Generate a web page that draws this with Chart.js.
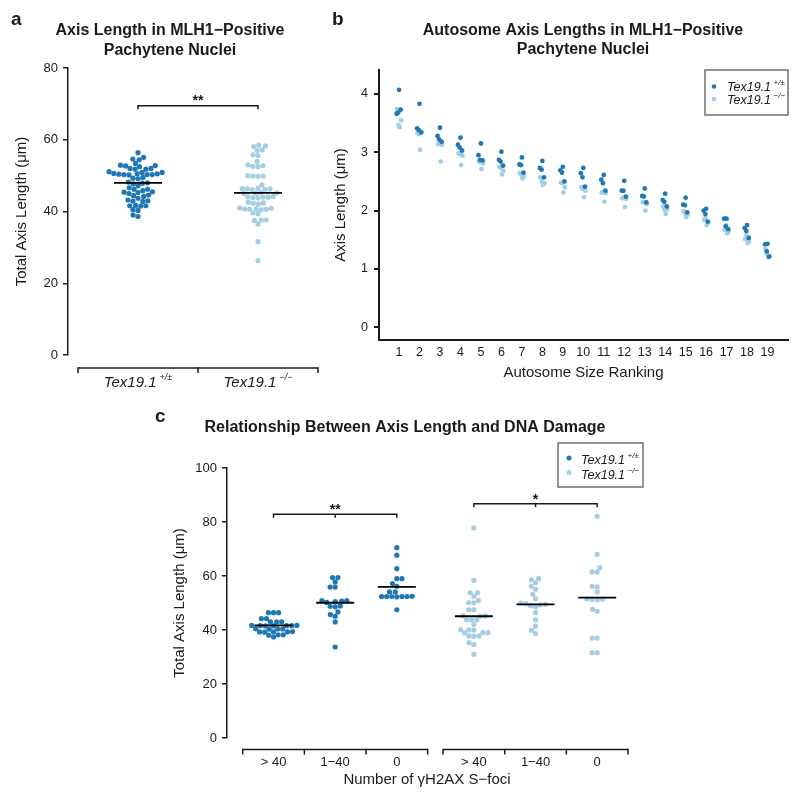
<!DOCTYPE html>
<html>
<head>
<meta charset="utf-8">
<script src="https://cdn.jsdelivr.net/npm/chart.js@4.4.1/dist/chart.umd.min.js"></script>
<style>
  html, body { margin: 0; padding: 0; background: #fff; }
  #wrap { position: relative; width: 800px; height: 798px; }
  #wrap canvas { position: absolute; left: 0; top: 0; }
</style>
</head>
<body>
<div id="wrap">
  <canvas id="chartA" width="800" height="798"></canvas>
  <canvas id="chartB" width="800" height="798"></canvas>
  <canvas id="chartC" width="800" height="798"></canvas>
</div>
<script>
const $ = id => document.getElementById(id);

// ---------- data ----------
// panel a: total axis length per nucleus
const genotypes = ['+/±', '−/−'];
const totalWT = [56.4, 55.1, 54.6, 54.4, 53.4, 52.9, 52.8, 52.7, 52.5, 52.0, 52.0, 51.8, 51.8, 51.1,
  50.9, 50.9, 50.6, 50.5, 50.5, 50.4, 50.3, 50.3, 50.3, 50.2, 49.5, 49.3, 49.1, 48.2, 48.0, 47.9,
  47.7, 47.2, 46.6, 46.2, 46.2, 45.8, 45.5, 45.4, 45.3, 45.0, 44.6, 44.4, 44.2, 43.7, 43.2, 43.0,
  42.9, 42.8, 41.7, 41.6, 41.6, 41.5, 40.5, 40.3, 39.0, 38.6];
const totalKO = [58.3, 58.5, 58.1, 57.2, 57.0, 55.8, 55.6, 53.9, 53.0, 52.8, 52.6, 52.5, 50.0, 49.9,
  49.8, 49.9, 47.4, 46.3, 46.4, 46.2, 46.3, 46.5, 46.1, 45.2, 45.0, 45.3, 45.1, 44.0, 43.9, 44.1,
  43.8, 44.2, 44.0, 42.6, 42.3, 42.4, 42.1, 40.9, 40.7, 40.6, 40.8, 41.0, 40.5, 40.7, 39.6, 39.4,
  37.7, 37.6, 37.5, 36.5, 31.6, 26.3];
const meanA = [48.0, 45.2];
const ticksA = [0, 20, 40, 60, 80];

// panel b: per-autosome axis length (one value per mouse)
const chromosomes = [1, 2, 3, 4, 5, 6, 7, 8, 9, 10, 11, 12, 13, 14, 15, 16, 17, 18, 19];
const autoWT = [
  [4.07, 3.66, 3.68, 3.73], [3.83, 3.41, 3.38, 3.34], [3.42, 3.28, 3.22, 3.18], [3.25, 3.13, 3.08, 3.03],
  [3.15, 2.95, 2.87, 2.86], [3.01, 2.87, 2.84, 2.77], [2.91, 2.79, 2.78, 2.65], [2.85, 2.73, 2.70, 2.57],
  [2.75, 2.69, 2.65, 2.50], [2.73, 2.64, 2.57, 2.41], [2.61, 2.53, 2.47, 2.34], [2.51, 2.34, 2.34, 2.24],
  [2.38, 2.25, 2.24, 2.14], [2.29, 2.18, 2.15, 2.07], [2.22, 2.10, 2.09, 1.97], [2.03, 2.00, 1.94, 1.81],
  [1.86, 1.86, 1.73, 1.68], [1.75, 1.70, 1.65, 1.53], [1.43, 1.42, 1.30, 1.21]
];
const autoKO = [
  [3.74, 3.55, 3.43, 3.47], [3.33, 3.35, 3.04, 3.31], [3.14, 3.13, 2.84, 3.15], [2.98, 2.94, 2.78, 2.97],
  [2.84, 2.81, 2.71, 2.83], [2.75, 2.68, 2.62, 2.73], [2.64, 2.58, 2.55, 2.61], [2.57, 2.47, 2.44, 2.50],
  [2.48, 2.40, 2.31, 2.47], [2.40, 2.34, 2.23, 2.37], [2.31, 2.30, 2.15, 2.31], [2.21, 2.20, 2.06, 2.22],
  [2.14, 2.11, 2.00, 2.15], [2.07, 2.02, 1.94, 2.01], [1.99, 1.93, 1.89, 1.95], [1.84, 1.79, 1.75, 1.87],
  [1.67, 1.64, 1.61, 1.75], [1.51, 1.47, 1.44, 1.58], [1.34, 1.22, 1.20, 1.26]
];
const ticksB = [0, 1, 2, 3, 4];

// panel c: total axis length split by number of gH2AX foci
const fociCats = ['> 40', '1−40', '0'];
const dmgWT = [
  [46.4, 46.4, 46.4, 44.2, 44.2, 43.0, 43.0, 43.0, 41.7, 41.6, 41.5, 41.7, 41.6, 41.5, 41.6, 40.4,
   40.4, 40.5, 40.3, 39.3, 39.3, 39.2, 39.4, 39.3, 38.2, 38.2, 38.1, 37.4],
  [59.4, 59.4, 57.8, 55.9, 55.9, 50.9, 50.7, 50.5, 50.2, 50.9, 48.8, 48.6, 48.9, 46.7, 45.7, 45.1, 43.0, 33.7],
  [70.5, 67.7, 62.7, 59.0, 59.0, 57.2, 56.2, 54.1, 54.1, 52.4, 52.4, 52.4, 52.3, 52.4, 52.5, 52.4, 47.5]
];
const dmgKO = [
  [77.8, 58.4, 53.8, 53.8, 52.5, 51.0, 50.1, 50.1, 47.5, 47.5, 45.2, 45.2, 45.1, 43.7, 43.7, 43.8,
   42.0, 40.1, 40.1, 40.0, 39.0, 39.0, 38.9, 37.8, 37.8, 37.7, 35.3, 34.6, 31.0],
  [59.0, 58.6, 57.5, 56.2, 55.1, 53.2, 51.6, 49.8, 49.5, 49.3, 49.0, 48.6, 50.0, 46.4, 43.8, 41.4, 39.9, 38.7],
  [82.1, 68.0, 63.1, 61.5, 61.5, 56.2, 56.0, 54.1, 51.5, 51.3, 51.2, 51.4, 47.7, 46.9, 37.0, 37.0, 31.6, 31.6]
];
const meanCwt = [41.7, 50.1, 56.0];
const meanCko = [45.1, 49.5, 52.0];
const ticksC = [0, 20, 40, 60, 80, 100];

// ---------- style ----------
const DARK = '#1f78b4';
const LIGHT = '#a6cee3';
const INK = '#1a1a1a';
const FONT = '"Liberation Sans", Arial, Helvetica, sans-serif';
Chart.defaults.font.family = FONT;
Chart.defaults.color = INK;

// small jitter for panel b (R jitter look)
const jitWT = [0, -0.12, -0.04, 0.08];
const jitKO = [-0.1, 0.1, 0.03, -0.03];

// ---------- helpers ----------
// beeswarm: place each point as close to the centre as possible without overlap (pixels)
function swarm(vals, toPx, d) {
  const order = vals.map((v, i) => i).sort((a, b) => vals[a] - vals[b]);
  const placed = [], out = [];
  order.forEach(i => {
    const py = toPx(vals[i]);
    const near = placed.filter(q => Math.abs(q.py - py) < d);
    const cands = [0];
    near.forEach(q => {
      const dx = Math.sqrt(d * d - (q.py - py) ** 2);
      cands.push(q.px + dx, q.px - dx);
    });
    cands.sort((a, b) => Math.abs(a) - Math.abs(b) || a - b);
    const px = cands.find(c => near.every(q => (q.px - c) ** 2 + (q.py - py) ** 2 >= d * d - 1e-6));
    placed.push({ px, py });
    out[i] = px;
  });
  return out;
}

function swarmData(chart, groups, centers, d) {
  const sx = chart.scales.x, sy = chart.scales.y;
  const unit = sx.getPixelForValue(1) - sx.getPixelForValue(0);
  return groups.flatMap((vals, g) => {
    const off = swarm(vals, v => sy.getPixelForValue(v), d);
    return vals.map((v, k) => ({ x: centers[g] + off[k] / unit, y: v }));
  });
}

function txt(ctx, s, x, y, font, align = 'center') {
  ctx.font = font;
  ctx.fillStyle = INK;
  ctx.textAlign = align;
  ctx.textBaseline = 'alphabetic';
  ctx.fillText(s, x, y);
}

function geno(ctx, sup, x, y, size, align = 'center') {
  const main = `italic ${size}px ${FONT}`;
  const small = `italic ${Math.round(size * 0.62)}px ${FONT}`;
  ctx.font = main;
  const w1 = ctx.measureText('Tex19.1').width;
  ctx.font = small;
  const w2 = ctx.measureText(sup).width;
  const gap = size * 0.2;
  const x0 = align === 'center' ? x - (w1 + gap + w2) / 2 : x;
  txt(ctx, 'Tex19.1', x0, y, main, 'left');
  txt(ctx, sup, x0 + w1 + gap, y - size * 0.45, small, 'left');
}

function line(ctx, pts, w = 1.5, color = INK) {
  ctx.beginPath();
  ctx.strokeStyle = color;
  ctx.lineWidth = w;
  pts.forEach(([x, y], i) => i ? ctx.lineTo(x, y) : ctx.moveTo(x, y));
  ctx.stroke();
}

// R-style category axis: line with ticks at the group borders, pointing down
function catAxis(ctx, sx, from, n, py, labels, drawLabel) {
  const xs = [];
  for (let i = 0; i <= n; i++) xs.push(sx.getPixelForValue(from + i));
  line(ctx, [[xs[0], py], [xs[n], py]]);
  xs.forEach(x => line(ctx, [[x, py - 0.75], [x, py + 5]]));
  labels.forEach((l, i) => drawLabel(l, (xs[i] + xs[i + 1]) / 2));
}

function sigBracket(ctx, sx, sy, x1, x2, yv, mid, stars, starY) {
  const a = sx.getPixelForValue(x1), b = sx.getPixelForValue(x2), y = sy.getPixelForValue(yv);
  line(ctx, [[a, y + 3.5], [a, y], [b, y], [b, y + 3.5]]);
  if (mid != null) line(ctx, [[sx.getPixelForValue(mid), y], [sx.getPixelForValue(mid), y + 3.5]]);
  txt(ctx, stars, (a + b) / 2, y - starY, `bold 14px ${FONT}`);
}

function meanLine(ctx, sx, sy, x, v, half) {
  const cx = sx.getPixelForValue(x), y = sy.getPixelForValue(v);
  line(ctx, [[cx - half, y], [cx + half, y]], 1.8, '#000');
}

function legendBox(ctx, x, y, w, h, rows, size, r) {
  ctx.strokeStyle = '#707070';
  ctx.lineWidth = 1.5;
  ctx.strokeRect(x, y, w, h);
  rows.forEach(row => {
    ctx.beginPath();
    ctx.fillStyle = row.color;
    ctx.arc(row.dx, row.dy, r, 0, Math.PI * 2);
    ctx.fill();
    geno(ctx, row.sup, row.tx, row.ty, size, 'left');
  });
}

const baseOpts = {
  responsive: false,
  animation: false,
  events: [],
  plugins: { legend: { display: false }, tooltip: { enabled: false } }
};

function yAxis(o) {
  return {
    min: o.min, max: o.max,
    afterFit: s => { s.width = o.width; },
    afterBuildTicks: s => { s.ticks = o.ticks.map(v => ({ value: v })); },
    ticks: { font: { size: o.size }, color: INK, padding: o.pad },
    grid: { drawOnChartArea: false, tickLength: 5, color: INK, lineWidth: o.lw },
    border: { color: INK, width: o.lw },
    title: { display: true, text: o.title, color: INK, font: { size: 15 }, padding: { top: o.tpad, bottom: 0 } }
  };
}

// ---------- panel a ----------
const decorA = {
  id: 'decorA',
  afterDatasetsDraw(chart) {
    const { ctx, scales: { x, y } } = chart;
    ctx.save();
    txt(ctx, 'a', 11, 25, `bold 19px ${FONT}`, 'left');
    txt(ctx, 'Axis Length in MLH1−Positive', 170, 35, `bold 16px ${FONT}`);
    txt(ctx, 'Pachytene Nuclei', 170, 55, `bold 16px ${FONT}`);
    meanA.forEach((m, i) => meanLine(ctx, x, y, i + 1, m, 24));
    sigBracket(ctx, x, y, 1, 2, 69.5, null, '**', 1);
    catAxis(ctx, x, 0.5, 2, 368, genotypes, (l, cx) => geno(ctx, l, cx, 387, 15));
    ctx.restore();
  }
};

const chartA = new Chart($('chartA'), {
  type: 'scatter',
  data: {
    datasets: [
      { data: totalWT.map(v => ({ x: 1, y: v })), backgroundColor: DARK, pointRadius: 2.6, borderWidth: 0 },
      { data: totalKO.map(v => ({ x: 2, y: v })), backgroundColor: LIGHT, pointRadius: 2.6, borderWidth: 0 }
    ]
  },
  options: {
    ...baseOpts,
    layout: { padding: { left: 0, top: 68, right: 482, bottom: 443 } },
    scales: {
      x: { type: 'linear', display: false, min: 0.4167, max: 2.5 },
      y: yAxis({ min: 0, max: 80, width: 68, ticks: ticksA, size: 13, pad: 5, lw: 1.5,
                 title: 'Total Axis Length (μm)', tpad: 13 })
    }
  },
  plugins: [decorA]
});
chartA.data.datasets[0].data = swarmData(chartA, [totalWT], [1], 5.1);
chartA.data.datasets[1].data = swarmData(chartA, [totalKO], [2], 5.1);
chartA.update('none');

// ---------- panel b ----------
const decorB = {
  id: 'decorB',
  afterDatasetsDraw(chart) {
    const { ctx } = chart;
    ctx.save();
    txt(ctx, 'b', 332, 25, `bold 19px ${FONT}`, 'left');
    txt(ctx, 'Autosome Axis Lengths in MLH1−Positive', 583, 35, `bold 16px ${FONT}`);
    txt(ctx, 'Pachytene Nuclei', 583, 54, `bold 16px ${FONT}`);
    legendBox(ctx, 705, 70, 83, 45, [
      { color: DARK, dx: 714, dy: 86.5, tx: 727, ty: 91, sup: genotypes[0] },
      { color: LIGHT, dx: 714, dy: 99, tx: 727, ty: 104, sup: genotypes[1] }
    ], 12.5, 2.3);
    ctx.restore();
  }
};

new Chart($('chartB'), {
  type: 'scatter',
  data: {
    datasets: [
      { data: autoWT.flatMap((vals, c) => vals.map((v, k) => ({ x: chromosomes[c] + jitWT[k], y: v }))),
        backgroundColor: DARK, pointRadius: 2.4, borderWidth: 0 },
      { data: autoKO.flatMap((vals, c) => vals.map((v, k) => ({ x: chromosomes[c] + jitKO[k], y: v }))),
        backgroundColor: LIGHT, pointRadius: 2.4, borderWidth: 0 }
    ]
  },
  options: {
    ...baseOpts,
    layout: { padding: { left: 332, top: 70, right: 12, bottom: 398 } },
    scales: {
      x: {
        type: 'linear', min: 0.02, max: 20,
        afterFit: s => { s.height = 60; },
        afterBuildTicks: s => { s.ticks = chromosomes.map(v => ({ value: v })); },
        ticks: { font: { size: 12.5 }, color: INK, padding: 5, maxRotation: 0, autoSkip: false },
        grid: { display: false, drawTicks: false },
        border: { color: INK, width: 2 },
        title: { display: true, text: 'Autosome Size Ranking', color: INK, font: { size: 15 },
                 padding: { top: 0, bottom: 18 } }
      },
      y: yAxis({ min: -0.22, max: 4.41, width: 47, ticks: ticksB, size: 12.5, pad: 6, lw: 2,
                 title: 'Axis Length (μm)', tpad: 0 })
    }
  },
  plugins: [decorB]
});

// ---------- panel c ----------
const groupX = [1, 2, 3];
const groupXko = [4.25, 5.25, 6.25];

const decorC = {
  id: 'decorC',
  afterDatasetsDraw(chart) {
    const { ctx, scales: { x, y } } = chart;
    ctx.save();
    txt(ctx, 'c', 155, 422, `bold 19px ${FONT}`, 'left');
    txt(ctx, 'Relationship Between Axis Length and DNA Damage', 405, 432, `bold 16px ${FONT}`);
    meanCwt.forEach((m, i) => meanLine(ctx, x, y, groupX[i], m, 19));
    meanCko.forEach((m, i) => meanLine(ctx, x, y, groupXko[i], m, 19));
    sigBracket(ctx, x, y, 1, 3, 82.9, 2, '**', 0);
    sigBracket(ctx, x, y, 4.25, 6.25, 86.8, 5.25, '*', 0);
    const lab = (l, cx) => txt(ctx, l, cx, 766, `13px ${FONT}`);
    catAxis(ctx, x, 0.5, 3, 749.5, fociCats, lab);
    catAxis(ctx, x, 3.75, 3, 749.5, fociCats, lab);
    txt(ctx, 'Number of γH2AX S−foci', 427, 784, `15px ${FONT}`);
    legendBox(ctx, 558, 443, 85, 44, [
      { color: DARK, dx: 569, dy: 458, tx: 581, ty: 464, sup: genotypes[0] },
      { color: LIGHT, dx: 569, dy: 472.5, tx: 581, ty: 479, sup: genotypes[1] }
    ], 12.5, 2.5);
    ctx.restore();
  }
};

const chartC = new Chart($('chartC'), {
  type: 'scatter',
  data: {
    datasets: [
      { data: [], backgroundColor: DARK, pointRadius: 2.6, borderWidth: 0 },
      { data: [], backgroundColor: LIGHT, pointRadius: 2.6, borderWidth: 0 }
    ]
  },
  options: {
    ...baseOpts,
    layout: { padding: { left: 160, top: 468, right: 172, bottom: 60 } },
    scales: {
      x: { type: 'linear', display: false, min: 0.245, max: 6.75 },
      y: yAxis({ min: 0, max: 100, width: 67, ticks: ticksC, size: 13, pad: 5, lw: 1.5,
                 title: 'Total Axis Length (μm)', tpad: 11 })
    }
  },
  plugins: [decorC]
});
chartC.data.datasets[0].data = swarmData(chartC, dmgWT, groupX, 5.1);
chartC.data.datasets[1].data = swarmData(chartC, dmgKO, groupXko, 5.1);
chartC.update('none');
</script>
</body>
</html>
